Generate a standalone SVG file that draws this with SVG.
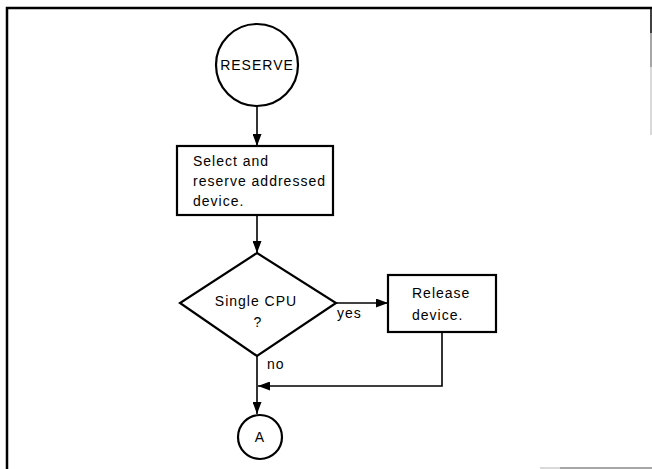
<svg xmlns="http://www.w3.org/2000/svg" width="652" height="469" viewBox="0 0 652 469">
<style>
.s{fill:#fff;stroke:#000;stroke-width:2.2}
.t{font-family:"Liberation Sans",Arial,sans-serif;font-size:14px;letter-spacing:1px;fill:#000}
.c{text-anchor:middle}
.l{fill:none;stroke:#000;stroke-width:1.6}
</style>
<defs>
<marker id="ah" markerWidth="12" markerHeight="9" refX="12" refY="4.5" orient="auto" markerUnits="userSpaceOnUse">
<path d="M0,0 L12,4.5 L0,9 Z" fill="#000"/>
</marker>
</defs>
<rect width="652" height="469" fill="#fff"/>
<g id="frame" fill="none">
<path d="M7,469 V8 H652" stroke="#000" stroke-width="2.5"/>
<path d="M651,8 V33" stroke="#000" stroke-width="1.5"/>
<path d="M651,33 V67" stroke="#888" stroke-width="1.5"/>
<path d="M651,67 V135" stroke="#ccc" stroke-width="1.5"/>
<path d="M540,468 H560" stroke="#ccc" stroke-width="1.5"/>
<path d="M560,468 H652" stroke="#888" stroke-width="1.5"/>
</g>
<g id="connectors">
<path class="l" d="M257,106 V146" marker-end="url(#ah)"/>
<path class="l" d="M257,215 V253" marker-end="url(#ah)"/>
<path class="l" d="M336,303 H388" marker-end="url(#ah)"/>
<path class="l" d="M442,332 V386 H258" marker-end="url(#ah)"/>
<path class="l" d="M257,356 V414" marker-end="url(#ah)"/>
<text class="t" x="337" y="318">yes</text>
<text class="t" x="267" y="369">no</text>
</g>
<g id="reserve">
<circle class="s" cx="257" cy="65" r="41"/>
<text class="t c" x="257" y="70" letter-spacing="0.3">RESERVE</text>
</g>
<g id="select">
<rect class="s" x="177" y="146" width="156" height="69"/>
<text class="t" x="193" y="166">Select and</text>
<text class="t" x="193" y="186">reserve addressed</text>
<text class="t" x="193" y="206">device.</text>
</g>
<g id="single">
<polygon class="s" points="257,253 336,303 257,356 180,303"/>
<text class="t c" x="256" y="306">Single CPU</text>
<text class="t c" x="258" y="327">?</text>
</g>
<g id="release">
<rect class="s" x="388" y="275" width="108" height="57"/>
<text class="t" x="412" y="298">Release</text>
<text class="t" x="412" y="320">device.</text>
</g>
<g id="a">
<circle class="s" cx="260" cy="437" r="22"/>
<text class="t c" x="260" y="442" letter-spacing="0">A</text>
</g>
</svg>
